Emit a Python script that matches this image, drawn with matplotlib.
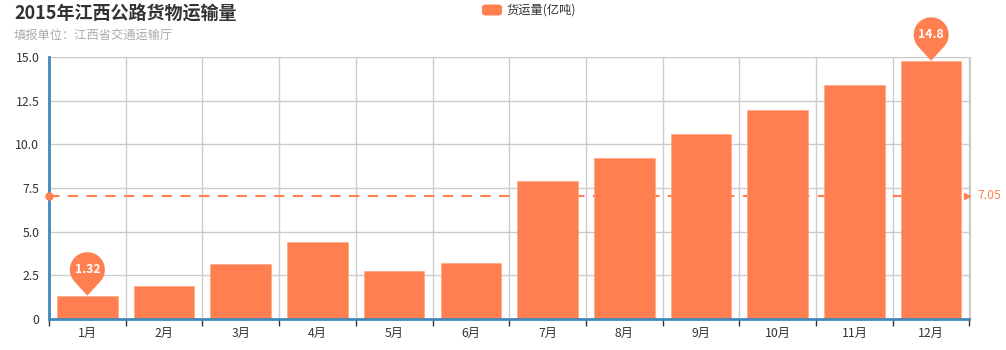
import numpy as np
import matplotlib
matplotlib.use("Agg")
import matplotlib.pyplot as plt
from matplotlib.patches import Polygon, FancyBboxPatch
from matplotlib.transforms import ScaledTranslation

plt.rcParams["font.family"] = ["Noto Sans CJK SC", "DejaVu Sans"]

title = "2015年江西公路货物运输量"
subtitle = "填报单位：江西省交通运输厅"
series_name = "货运量(亿吨)"
months = ["1月", "2月", "3月", "4月", "5月", "6月",
          "7月", "8月", "9月", "10月", "11月", "12月"]
volume = [1.32, 1.9, 3.15, 4.4, 2.75, 3.2, 7.9, 9.2, 10.6, 12.0, 13.4, 14.8]
y_ticks = [0, 2.5, 5.0, 7.5, 10.0, 12.5, 15.0]

BAR = "#ff7f50"
AXIS = "#4488bb"
GRID = "#cccccc"
TXT = "#333333"

W, H = 1006, 350
fig = plt.figure(figsize=(W / 100, H / 100), dpi=100)
ax = fig.add_axes([49 / W, (H - 318.7) / H, (969.5 - 49) / W, (318.7 - 57.3) / H])

x = np.arange(len(months))
ax.bar(x, volume, width=0.79, color=BAR, edgecolor="#ffa07a", linewidth=0.4, zorder=3)

ax.set_xlim(-0.5, len(months) - 0.5)
ax.set_ylim(0, 15)
ax.set_yticks(y_ticks)
ax.set_yticklabels(["0" if v == 0 else f"{v:.1f}" for v in y_ticks])
ax.tick_params(axis="y", length=0, pad=7, labelsize=8.8, labelcolor=TXT)

# category axis: ticks between categories
ax.set_xticks(np.arange(-0.5, len(months)), minor=True)
ax.set_xticks(x)
ax.set_xticklabels(months)
ax.tick_params(axis="x", which="major", length=0, pad=6, labelsize=8.8, labelcolor=TXT)
ax.tick_params(axis="x", which="minor", length=5, width=1, color=TXT, direction="out")

ax.grid(True, axis="y", color=GRID, linewidth=1, zorder=0)
ax.grid(True, axis="x", which="minor", color=GRID, linewidth=1, zorder=0)
ax.set_axisbelow(True)

ax.spines["left"].set_color(AXIS)
ax.spines["left"].set_linewidth(2)
ax.spines["bottom"].set_color(AXIS)
ax.spines["bottom"].set_linewidth(2)
ax.spines["top"].set_color(GRID)
ax.spines["right"].set_color(GRID)
for s in ["left", "bottom"]:
    ax.spines[s].set_zorder(5)

# average line
avg = np.mean(volume)
x_end = len(months) - 0.5 - 0.03
ax.plot([-0.5, x_end], [avg, avg], color=BAR, linewidth=1.5,
        linestyle=(0, (5, 4)), zorder=2, clip_on=False)
ax.plot([-0.5], [avg], marker="o", markersize=5, color=BAR, zorder=6, clip_on=False)
ax.plot([x_end], [avg], marker=">", markersize=5, color=BAR, zorder=6, clip_on=False)
ax.annotate(f"{avg:.2f}", xy=(len(months) - 0.5, avg), xytext=(6, 0),
            textcoords="offset points", color=BAR, fontsize=8.8, va="center", ha="left",
            annotation_clip=False)

# pin markers at min and max
r, d = 0.175, 0.26
a = np.arccos(r / d)
ang = np.linspace(-np.pi / 2 + a, 3 * np.pi / 2 - a, 60)
pin = np.vstack([[0, 0], np.column_stack([r * np.cos(ang), d + r * np.sin(ang)])])
for i in [int(np.argmin(volume)), int(np.argmax(volume))]:
    tr = fig.dpi_scale_trans + ScaledTranslation(x[i], volume[i], ax.transData)
    ax.add_patch(Polygon(pin, closed=True, facecolor=BAR, edgecolor="none",
                         transform=tr, zorder=7, clip_on=False))
    ax.text(0, d, f"{volume[i]:g}", transform=tr, color="white", fontsize=8.8,
            ha="center", va="center", zorder=8, fontweight="bold")

# title, subtitle and legend
fig.text(14 / W, 1 - 14 / H, title, fontsize=13, fontweight="bold", color=TXT,
         ha="left", va="center")
fig.text(14 / W, 1 - 35 / H, subtitle, fontsize=8.8, color="#aaaaaa",
         ha="left", va="center")
fig.patches.append(FancyBboxPatch((4.82, 3.5 - 0.155), 0.20, 0.11,
                                  boxstyle="round,pad=0,rounding_size=0.03",
                                  transform=fig.dpi_scale_trans, facecolor=BAR,
                                  edgecolor="none"))
fig.text(507 / W, 1 - 10 / H, series_name, fontsize=8.8, color=TXT,
         ha="left", va="center")

fig.savefig("out.png", dpi=100)
